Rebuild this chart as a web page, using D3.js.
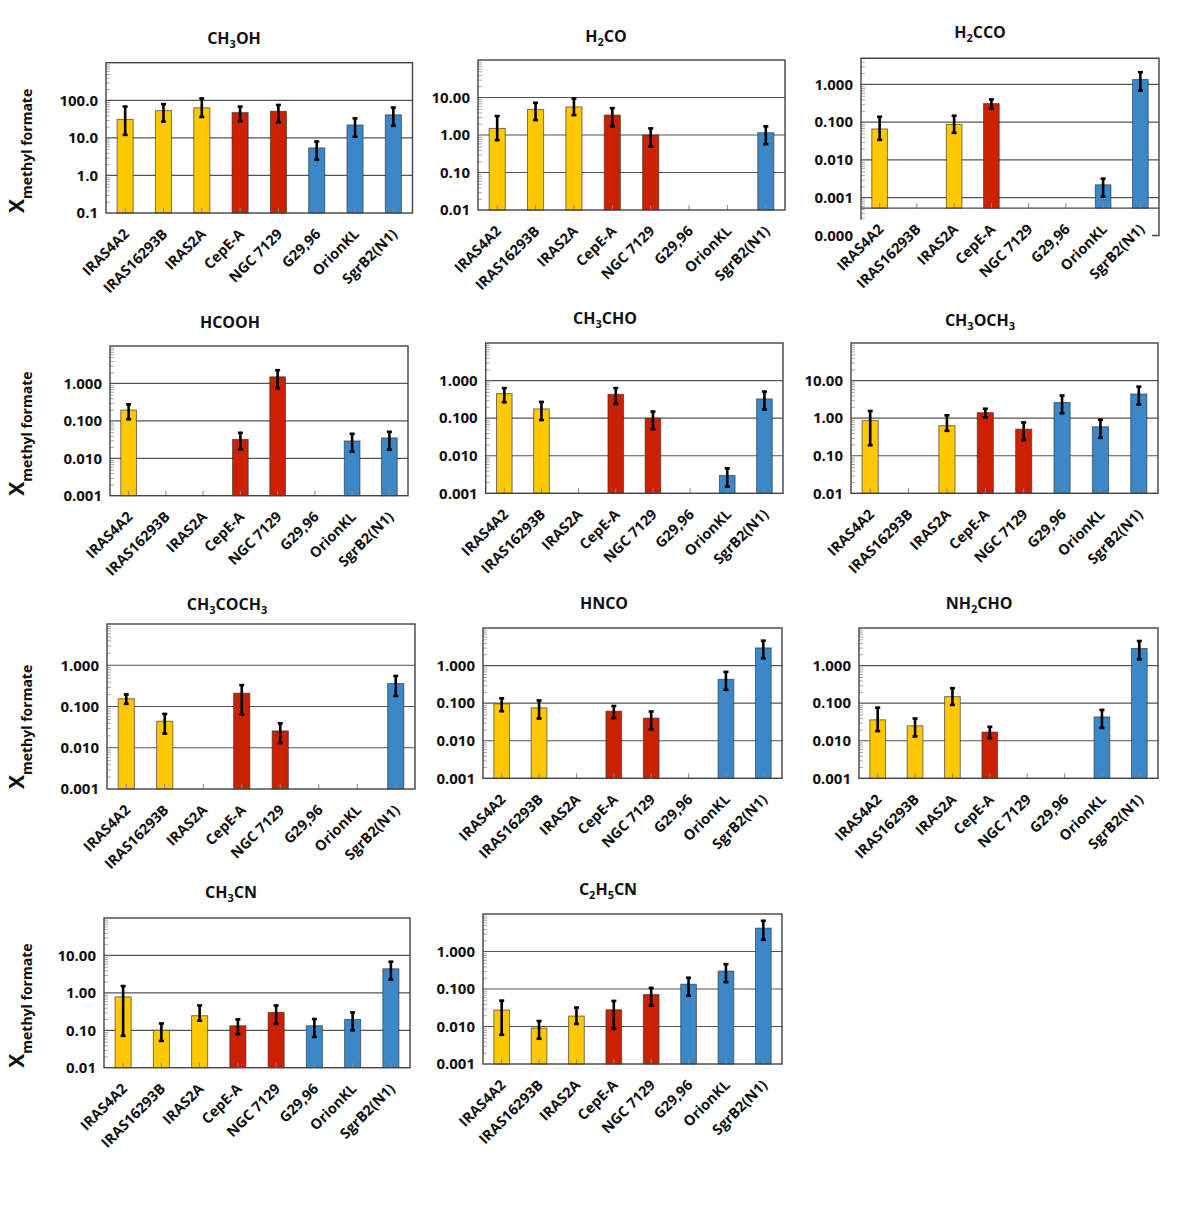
<!DOCTYPE html>
<html>
<head>
<meta charset="utf-8">
<script src="https://cdn.jsdelivr.net/npm/d3@7"></script>
<style>
  body { margin: 0; background: #fff; }
  svg { font-family: "Open Sans", Lato, sans-serif; font-weight: bold; }
</style>
</head>
<body>
<div id="chart"></div>
<script>
// sources and their class (low-mass / intermediate / high-mass)
var sources = ["IRAS4A2", "IRAS16293B", "IRAS2A", "CepE-A", "NGC 7129", "G29,96", "OrionKL", "SgrB2(N1)"];
var sourceClass = ["low", "low", "low", "int", "int", "high", "high", "high"];

var molecules = ["CH3OH", "H2CO", "H2CCO", "HCOOH", "CH3CHO", "CH3OCH3", "CH3COCH3", "HNCO", "NH2CHO", "CH3CN", "C2H5CN"];

// abundance ratios relative to methyl formate (null = no value)
var ch3ohVal = [31, 53, 63, 47, 51, 5.4, 22, 41];
var ch3ohLo  = [12, 27, 36, 28, 26, 2.6, 10.7, 21];
var ch3ohHi  = [68, 79, 112, 68, 75, 8.0, 33, 64];

var h2coVal = [1.5, 4.8, 5.6, 3.4, 1.0, null, null, 1.15];
var h2coLo  = [0.73, 2.5, 3.4, 1.7, 0.49, null, null, 0.57];
var h2coHi  = [3.2, 7.2, 9.4, 5.2, 1.5, null, null, 1.7];

var h2ccoVal = [0.066, null, 0.087, 0.31, null, null, 0.0022, 1.35];
var h2ccoLo  = [0.034, null, 0.052, 0.23, null, null, 0.00107, 0.68];
var h2ccoHi  = [0.139, null, 0.148, 0.40, null, null, 0.0032, 2.1];

var hcoohVal = [0.195, null, null, 0.032, 1.5, null, 0.029, 0.035];
var hcoohLo  = [0.11, null, null, 0.0174, 0.74, null, 0.015, 0.017];
var hcoohHi  = [0.275, null, null, 0.048, 2.26, null, 0.045, 0.051];

var ch3choVal = [0.45, 0.176, null, 0.43, 0.1, null, 0.003, 0.325];
var ch3choLo  = [0.265, 0.089, null, 0.24, 0.051, null, 0.0015, 0.17];
var ch3choHi  = [0.63, 0.27, null, 0.63, 0.15, null, 0.0046, 0.51];

var ch3och3Val = [0.86, null, 0.63, 1.4, 0.51, 2.6, 0.59, 4.4];
var ch3och3Lo  = [0.19, null, 0.46, 1.05, 0.26, 1.35, 0.30, 2.3];
var ch3och3Hi  = [1.55, null, 1.19, 1.78, 0.77, 4.0, 0.91, 6.9];

var ch3coch3Val = [0.154, 0.044, null, 0.21, 0.0256, null, null, 0.36];
var ch3coch3Lo  = [0.116, 0.022, null, 0.064, 0.013, null, null, 0.18];
var ch3coch3Hi  = [0.196, 0.066, null, 0.33, 0.039, null, null, 0.55];

var hncoVal = [0.096, 0.075, null, 0.061, 0.040, null, 0.43, 2.95];
var hncoLo  = [0.061, 0.039, null, 0.040, 0.020, null, 0.226, 1.56];
var hncoHi  = [0.134, 0.118, null, 0.084, 0.060, null, 0.68, 4.6];

var nh2choVal = [0.036, 0.025, 0.149, 0.017, null, null, 0.043, 2.85];
var nh2choLo  = [0.018, 0.013, 0.09, 0.0117, null, null, 0.022, 1.47];
var nh2choHi  = [0.076, 0.039, 0.25, 0.0234, null, null, 0.066, 4.5];

var ch3cnVal = [0.78, 0.10, 0.245, 0.132, 0.30, 0.132, 0.195, 4.4];
var ch3cnLo  = [0.071, 0.052, 0.18, 0.079, 0.148, 0.066, 0.10, 2.26];
var ch3cnHi  = [1.52, 0.152, 0.46, 0.195, 0.46, 0.20, 0.30, 6.8];

var c2h5cnVal = [0.0275, 0.0091, 0.019, 0.028, 0.071, 0.134, 0.30, 4.2];
var c2h5cnLo  = [0.006, 0.0047, 0.0117, 0.0086, 0.036, 0.066, 0.152, 2.05];
var c2h5cnHi  = [0.049, 0.014, 0.032, 0.048, 0.107, 0.20, 0.46, 6.6];

var values = [ch3ohVal, h2coVal, h2ccoVal, hcoohVal, ch3choVal, ch3och3Val, ch3coch3Val, hncoVal, nh2choVal, ch3cnVal, c2h5cnVal];
var lows   = [ch3ohLo, h2coLo, h2ccoLo, hcoohLo, ch3choLo, ch3och3Lo, ch3coch3Lo, hncoLo, nh2choLo, ch3cnLo, c2h5cnLo];
var highs  = [ch3ohHi, h2coHi, h2ccoHi, hcoohHi, ch3choHi, ch3och3Hi, ch3coch3Hi, hncoHi, nh2choHi, ch3cnHi, c2h5cnHi];

// y axis ranges and tick label decimals per panel
var axisMin = [0.1, 0.01, 0.0001, 0.001, 0.001, 0.01, 0.001, 0.001, 0.001, 0.01, 0.001];
var axisMax = [1000, 100, 4.9, 10, 10, 100, 10, 10, 10, 100, 10];
var axisDecimals = [1, 2, 3, 3, 3, 2, 3, 3, 3, 2, 3];
var h2ccoCross = 0.00053;   // where the x axis crosses in the H2CCO panel
var h2ccoLeftEnd = 0.00026;

// panel boxes in pixels: left, right, top, bottom, title x, title baseline
var layout = [
  [106, 412.5, 62.7, 213, 234, 44],
  [478, 785, 60, 210, 606, 42],
  [861, 1159, 58.3, 235.5, 980, 38],
  [110, 408, 346, 495.7, 230, 328],
  [485.7, 783, 343, 493.3, 605, 324],
  [851, 1158, 343, 493.3, 980, 326],
  [107, 415, 624, 789, 227, 610],
  [483, 782, 628, 778.3, 604, 609],
  [859, 1158, 628, 778.3, 979, 609],
  [104, 410, 918, 1067.7, 231, 898],
  [483, 782, 914, 1064, 608, 895]
];

var colors = {low: "#ffc800", int: "#cc2100", high: "#3a88c8"};
var font = "'Open Sans', Lato, sans-serif";

var svg = d3.select("#chart").append("svg")
  .attr("width", 1196)
  .attr("height", 1212);

function addFormula(sel, str, subSize, shift) {
  // digits become subscripts
  var parts = str.match(/(\d+|\D+)/g);
  var down = false;
  parts.forEach(function(p) {
    var isNum = /\d/.test(p);
    var t = sel.append("tspan").text(p);
    if (isNum && !down) { t.attr("dy", shift).attr("font-size", subSize); down = true; }
    else if (!isNum && down) { t.attr("dy", -shift); down = false; }
  });
}

layout.forEach(function(L, i) {
  var x0 = L[0], x1 = L[1], yt = L[2], yb = L[3];
  var g = svg.append("g");
  var special = (i == 2);

  var x = d3.scaleBand()
    .domain(sources)
    .range([x0, x1])
    .paddingInner(0.58)
    .paddingOuter(0.29);

  var y = d3.scaleLog()
    .domain([axisMin[i], axisMax[i]])
    .range([yb, yt]);

  var base = special ? h2ccoCross : axisMin[i];
  var lo10 = Math.round(Math.log10(axisMin[i]));
  var hi10 = Math.ceil(Math.log10(axisMax[i]) - 1e-9);
  var majors = d3.range(lo10, hi10).map(function(e) { return Math.pow(10, e); });
  var minors = [];
  d3.range(lo10, hi10).forEach(function(e) {
    for (var k = 2; k <= 9; k++) {
      var v = k * Math.pow(10, e);
      if (v < axisMax[i] && (!special || v > h2ccoLeftEnd)) minors.push(v);
    }
  });

  // gridlines
  g.append("g").selectAll("line")
    .data(majors.filter(function(d) { return d > base * 1.0001; }))
    .enter().append("line")
    .attr("x1", x0).attr("x2", x1)
    .attr("y1", function(d) { return y(d); })
    .attr("y2", function(d) { return y(d); })
    .attr("stroke", "#555")
    .attr("stroke-width", 1.2);

  // bars
  var rows = sources.map(function(s, j) {
    return {src: s, cls: sourceClass[j], v: values[i][j], lo: lows[i][j], hi: highs[i][j]};
  }).filter(function(d) { return d.v != null; });

  g.append("g").selectAll("rect")
    .data(rows)
    .enter().append("rect")
    .attr("x", function(d) { return x(d.src); })
    .attr("width", x.bandwidth())
    .attr("y", function(d) { return y(d.v); })
    .attr("height", function(d) { return y(base) - y(d.v); })
    .attr("fill", function(d) { return colors[d.cls]; })
    .attr("stroke", "rgba(50,50,50,0.65)")
    .attr("stroke-width", 1);

  // minor ticks (inside)
  var minorAxis = g.append("g")
    .attr("transform", "translate(" + x0 + ",0)")
    .call(d3.axisLeft(y).tickValues(minors).tickSize(-4).tickFormat(""));
  minorAxis.select(".domain").remove();
  minorAxis.selectAll("line").attr("stroke", "#aaa");

  // major tick labels
  var majorAxis = g.append("g")
    .attr("transform", "translate(" + x0 + ",0)")
    .call(d3.axisLeft(y).tickValues(majors).tickSize(0).tickPadding(8)
      .tickFormat(d3.format("." + axisDecimals[i] + "f")));
  majorAxis.select(".domain").remove();
  majorAxis.selectAll("text")
    .attr("font-family", font)
    .attr("font-weight", "bold")
    .attr("font-size", 15)
    .attr("fill", "#111");

  // x axis ticks at band centres and labels
  var xAxis = g.append("g")
    .attr("transform", "translate(0," + y(base) + ")")
    .call(d3.axisBottom(x).tickSize(-5).tickFormat(""));
  xAxis.select(".domain").remove();
  xAxis.selectAll("line").attr("stroke", "#888");

  var labelDrop = special ? (y(h2ccoCross) - yb + 22) : 22;
  var xLabels = g.append("g")
    .attr("transform", "translate(0," + yb + ")")
    .call(d3.axisBottom(x).tickSize(0));
  xLabels.select(".domain").remove();
  xLabels.selectAll("text")
    .attr("font-family", font)
    .attr("font-weight", "bold")
    .attr("font-size", 14.5)
    .attr("fill", "#111")
    .attr("x", 0).attr("y", 0).attr("dy", 0)
    .attr("text-anchor", "end")
    .attr("transform", "translate(5," + labelDrop + ") rotate(-45)");

  // frame
  var frame = g.append("g").attr("fill", "none").attr("stroke", "#444").attr("stroke-width", 1.4);
  if (!special) {
    frame.append("rect")
      .attr("x", x0).attr("y", yt)
      .attr("width", x1 - x0).attr("height", yb - yt);
  } else {
    frame.append("path")
      .attr("d", "M" + x0 + "," + y(h2ccoLeftEnd) + "V" + yt + "H" + x1 + "V" + yb + "H" + (x1 - 7));
    frame.append("line")
      .attr("x1", x0).attr("x2", x1)
      .attr("y1", y(h2ccoCross)).attr("y2", y(h2ccoCross));
  }

  // error bars
  var err = g.append("g").attr("stroke", "#000").attr("stroke-width", 2.6);
  err.selectAll("line.v")
    .data(rows).enter().append("line")
    .attr("class", "v")
    .attr("x1", function(d) { return x(d.src) + x.bandwidth() / 2; })
    .attr("x2", function(d) { return x(d.src) + x.bandwidth() / 2; })
    .attr("y1", function(d) { return y(d.lo); })
    .attr("y2", function(d) { return y(d.hi); });
  ["lo", "hi"].forEach(function(k) {
    err.selectAll("line." + k)
      .data(rows).enter().append("line")
      .attr("class", k)
      .attr("x1", function(d) { return x(d.src) + x.bandwidth() / 2 - 2.5; })
      .attr("x2", function(d) { return x(d.src) + x.bandwidth() / 2 + 2.5; })
      .attr("y1", function(d) { return y(d[k]); })
      .attr("y2", function(d) { return y(d[k]); });
  });

  // title
  var title = g.append("text")
    .attr("x", L[4]).attr("y", L[5])
    .attr("text-anchor", "middle")
    .attr("font-size", 16)
    .attr("fill", "#111");
  addFormula(title, molecules[i], 11, 4);

  // y label on the left column
  if (i % 3 == 0) {
    var lab = g.append("text")
      .attr("transform", "translate(24," + yb + ") rotate(-90)")
      .attr("fill", "#111");
    lab.append("tspan").attr("font-size", 21).text("X");
    lab.append("tspan").attr("font-size", 14).attr("dy", 8).text("methyl formate");
  }
});
</script>
</body>
</html>
